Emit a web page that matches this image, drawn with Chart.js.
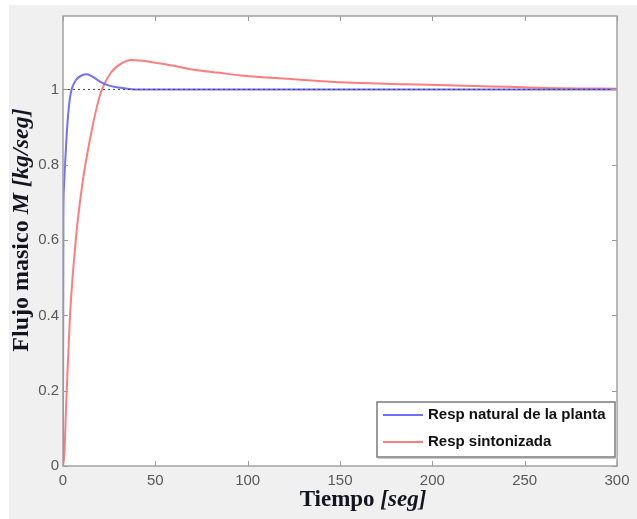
<!DOCTYPE html>
<html>
<head>
<meta charset="utf-8">
<script src="https://cdn.jsdelivr.net/npm/chart.js@4/dist/chart.umd.min.js"></script>
<style>
html,body{margin:0;padding:0;background:#fff;}
#wrap{width:637px;height:519px;}
</style>
</head>
<body>
<div id="wrap"><canvas id="c" width="637" height="519"></canvas></div>
<script>
// ---- data ----
const seriesLabels = ["Resp natural de la planta", "Resp sintonizada"];
const blueT = [0, 0.2, 0.5, 1, 2, 3, 4, 5, 7, 10, 13, 16, 20, 25, 30, 35, 40, 50, 300];
const blueY = [0, 0.65, 0.74, 0.79, 0.88, 0.945, 0.985, 1.005, 1.025, 1.037, 1.04, 1.034, 1.021, 1.01, 1.005, 1.002, 1.0, 1.0, 1.0];
const redT = [0, 0.7, 2, 3.8, 6.9, 10.8, 14.6, 18.4, 21.1, 26, 31.9, 37, 43, 50, 60, 70, 85, 96, 110, 123, 150, 186, 222, 240, 270, 300];
const redY = [0, 0.03, 0.2, 0.4, 0.6, 0.76, 0.867, 0.955, 1.0, 1.045, 1.07, 1.078, 1.076, 1.071, 1.063, 1.053, 1.044, 1.037, 1.032, 1.028, 1.019, 1.014, 1.009, 1.007, 1.003, 1.002];
const refT = [0, 300];
const refY = [1, 1];
const xTicks = [0, 50, 100, 150, 200, 250, 300];
const yTicks = [0, 0.2, 0.4, 0.6, 0.8, 1];
const xRange = [0, 300];
const yRange = [0, 1.195];

const pts = (xs, ys) => xs.map((x, i) => ({x: x, y: ys[i]}));
const BLUE = 'rgba(112,112,255,1)';
const RED = 'rgba(255,125,125,1)';

function drawRich(ctx, parts, cx, cy) {
  let total = 0;
  parts.forEach(p => { ctx.font = p.font; p.w = ctx.measureText(p.text).width; total += p.w; });
  let x = cx - total / 2;
  ctx.textBaseline = 'middle';
  ctx.textAlign = 'left';
  parts.forEach(p => { ctx.font = p.font; ctx.fillText(p.text, x, cy); x += p.w; });
}

const decor = {
  id: 'decor',
  beforeDraw(chart) {
    const ctx = chart.ctx;
    ctx.save();
    ctx.fillStyle = '#ffffff';
    ctx.fillRect(0, 0, chart.width, chart.height);
    ctx.fillStyle = '#f0f0f0';
    ctx.fillRect(9, 5, chart.width - 9, chart.height - 5);
    const a = chart.chartArea;
    ctx.fillStyle = '#ffffff';
    ctx.fillRect(a.left, a.top, a.right - a.left, a.bottom - a.top);
    ctx.restore();
  },
  afterDraw(chart) {
    const ctx = chart.ctx;
    const a = chart.chartArea;
    const xs = chart.scales.x, ys = chart.scales.y;
    ctx.save();
    // inside ticks
    ctx.strokeStyle = '#9a9a9a';
    ctx.lineWidth = 1;
    ctx.beginPath();
    xTicks.forEach(v => {
      const px = Math.round(xs.getPixelForValue(v)) + 0.5;
      ctx.moveTo(px, a.bottom); ctx.lineTo(px, a.bottom - 5);
      ctx.moveTo(px, a.top); ctx.lineTo(px, a.top + 5);
    });
    yTicks.forEach(v => {
      const py = Math.round(ys.getPixelForValue(v)) + 0.5;
      ctx.moveTo(a.left, py); ctx.lineTo(a.left + 5, py);
      ctx.moveTo(a.right, py); ctx.lineTo(a.right - 5, py);
    });
    ctx.stroke();
    // frame
    ctx.strokeStyle = '#a0a0a0';
    ctx.lineWidth = 1.5;
    ctx.strokeRect(a.left, a.top, a.right - a.left, a.bottom - a.top);
    // axis titles
    ctx.fillStyle = '#141420';
    drawRich(ctx, [
      {text: 'Tiempo ', font: 'bold 23px "Liberation Serif"'},
      {text: '[seg]', font: 'italic bold 23px "Liberation Serif"'}
    ], 363, 500);
    ctx.save();
    ctx.translate(22, 230);
    ctx.rotate(-Math.PI / 2);
    drawRich(ctx, [
      {text: 'Flujo masico ', font: 'bold 24px "Liberation Serif"'},
      {text: 'M', font: 'italic bold 24px "Liberation Serif"'},
      {text: ' ', font: 'bold 24px "Liberation Serif"'},
      {text: '[kg/seg]', font: 'italic bold 24px "Liberation Serif"'}
    ], 0, 0);
    ctx.restore();
    // legend
    const L = 377, T = 402, R = 615, B = 457;
    ctx.fillStyle = '#ffffff';
    ctx.fillRect(L, T, R - L, B - T);
    ctx.strokeStyle = '#7a7a7a';
    ctx.lineWidth = 1.5;
    ctx.strokeRect(L, T, R - L, B - T);
    ctx.strokeStyle = '#c8c8c8';
    ctx.lineWidth = 1;
    ctx.beginPath();
    ctx.moveTo(L + 1, B + 1.5); ctx.lineTo(R + 1.5, B + 1.5); ctx.lineTo(R + 1.5, T + 1);
    ctx.stroke();
    const rows = [{y: 415, c: BLUE}, {y: 442, c: RED}];
    rows.forEach((r, i) => {
      ctx.strokeStyle = r.c;
      ctx.lineWidth = 2;
      ctx.beginPath();
      ctx.moveTo(383, r.y); ctx.lineTo(423, r.y);
      ctx.stroke();
      ctx.fillStyle = '#111111';
      ctx.font = 'bold 15px "Liberation Sans"';
      ctx.textBaseline = 'middle';
      ctx.textAlign = 'left';
      ctx.fillText(chart.data.datasets[i].label, 428, r.y);
    });
    ctx.restore();
  }
};

new Chart(document.getElementById('c'), {
  type: 'line',
  data: {
    datasets: [
      {label: seriesLabels[0], data: pts(blueT, blueY), borderColor: BLUE, borderWidth: 2, pointRadius: 0, cubicInterpolationMode: 'monotone', order: 2},
      {label: seriesLabels[1], data: pts(redT, redY), borderColor: RED, borderWidth: 2, pointRadius: 0, cubicInterpolationMode: 'monotone', order: 3},
      {label: 'ref', data: pts(refT, refY), borderColor: '#444444', borderWidth: 1, borderDash: [2, 3], pointRadius: 0, order: 1}
    ]
  },
  options: {
    responsive: false,
    animation: false,
    events: [],
    layout: {padding: {top: 16, right: 20, left: 0, bottom: 0}},
    plugins: {legend: {display: false}, tooltip: {enabled: false}},
    scales: {
      x: {
        type: 'linear', min: xRange[0], max: xRange[1],
        grid: {display: false, drawTicks: false},
        border: {display: false},
        afterBuildTicks: s => { s.ticks = xTicks.map(v => ({value: v})); },
        afterFit: s => { s.height = 53; },
        ticks: {color: '#585858', font: {family: 'Liberation Sans', size: 15}, padding: 6, maxRotation: 0, callback: v => String(v)}
      },
      y: {
        type: 'linear', min: yRange[0], max: yRange[1],
        grid: {display: false, drawTicks: false},
        border: {display: false},
        afterBuildTicks: s => { s.ticks = yTicks.map(v => ({value: v})); },
        afterFit: s => { s.width = 63; },
        ticks: {color: '#585858', font: {family: 'Liberation Sans', size: 15}, padding: 4, callback: v => String(v)}
      }
    }
  },
  plugins: [decor]
});
</script>
</body>
</html>
